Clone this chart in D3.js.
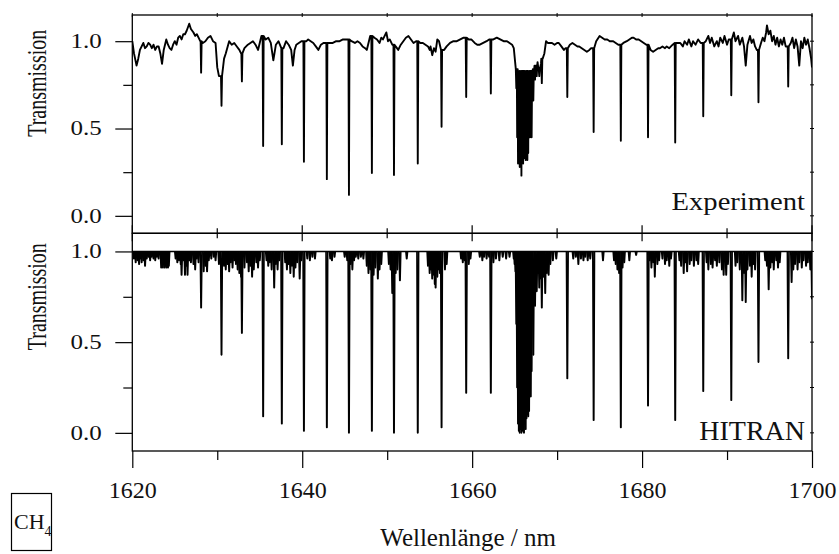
<!DOCTYPE html>
<html>
<head>
<meta charset="utf-8">
<script src="https://cdn.jsdelivr.net/npm/d3@7"></script>
<style>
  body { margin: 0; background: #fff; }
  text { font-family: "Liberation Serif", "Times New Roman", serif; fill: #111; }
</style>
</head>
<body>
<svg id="chart" width="839" height="554"></svg>
<script>
// tick labels
var xTicks = [1620, 1640, 1660, 1680, 1700];
var xMinorTicks = [1630, 1650, 1670, 1690];
var yTicks = [0, 0.5, 1.0];
var yMinorTicks = [0.25, 0.75];

// strong lines: position (nm), experiment minimum, HITRAN minimum
var lineNm  = [1628.1, 1630.5, 1632.9, 1635.4, 1637.6, 1640.2, 1642.9, 1645.5, 1648.2, 1650.8, 1653.6, 1656.4,
               1659.3, 1662.2, 1671.2, 1674.3, 1677.5, 1680.7, 1683.9, 1687.2, 1690.5, 1693.7, 1697.2];
var expDip  = [0.82, 0.63, 0.77, 0.40, 0.41, 0.31, 0.21, 0.12, 0.245, 0.234, 0.30, 0.51,
               0.68, 0.70, 0.68, 0.48, 0.43, 0.45, 0.42, 0.57, 0.69, 0.65, 0.74];
var hitDip  = [0.69, 0.43, 0.55, 0.09, 0.05, 0.01, 0.03, 0.00, 0.01, 0.00, 0.00, 0.03,
               0.22, 0.22, 0.30, 0.07, 0.03, 0.15, 0.07, 0.23, 0.18, 0.39, 0.41];

// Q branch around 1666 nm
var qNm  = [1665.2, 1665.3, 1665.4, 1665.5, 1665.6, 1665.7, 1665.8, 1665.9, 1666.0, 1666.1, 1666.2, 1666.3,
            1666.4, 1666.5, 1666.6, 1666.7, 1666.8, 1666.9, 1667.0, 1667.2, 1667.4, 1667.6, 1667.9, 1668.2];
var qExp = [0.73, 0.45, 0.30, 0.35, 0.28, 0.40, 0.23, 0.38, 0.30, 0.33, 0.40, 0.32,
            0.42, 0.32, 0.36, 0.50, 0.45, 0.55, 0.45, 0.66, 0.78, 0.80, 0.80, 0.76];
var qHit = [0.60, 0.25, 0.05, 0.01, 0.00, 0.02, 0.00, 0.01, 0.03, 0.00, 0.05, 0.02,
            0.08, 0.10, 0.09, 0.12, 0.33, 0.20, 0.34, 0.43, 0.70, 0.78, 0.80, 0.85];

// weak HITRAN lines
var weakNm = [1620.2, 1620.4, 1620.6, 1620.8, 1621.0, 1621.1, 1621.3, 1621.5, 1621.7, 1621.9, 1622.1, 1622.3, 1622.5, 1622.7, 1622.9, 1623.1,
  1623.4, 1623.5, 1623.6, 1623.7, 1623.8, 1623.9, 1624.0, 1624.1, 1624.2, 1624.3,
  1625.1, 1625.3, 1625.5, 1625.7, 1625.8, 1626.0, 1626.2, 1626.4, 1626.5, 1626.7, 1626.9, 1627.2, 1627.4, 1627.6, 1627.8,
  1628.4, 1628.6, 1628.8, 1629.0, 1629.3, 1629.6, 1629.8, 1630.2, 1630.8, 1631.0, 1631.2, 1631.4, 1631.6, 1631.8, 1632.0, 1632.2, 1632.4, 1632.6, 1632.8,
  1633.2, 1633.5, 1633.7, 1633.9, 1634.1, 1634.3, 1634.6, 1634.8, 1635.0, 1635.8, 1636.0, 1636.2, 1636.4, 1636.7, 1636.9, 1637.1, 1637.3,
  1638.0, 1638.2, 1638.4, 1638.6, 1638.8, 1639.0, 1639.2, 1639.4, 1639.7, 1639.9, 1640.6, 1640.9, 1641.2, 1641.5, 1643.3, 1643.5, 1643.8, 1645.0,
  1645.3, 1645.7, 1645.9, 1646.1, 1646.3, 1646.6, 1646.9, 1647.2, 1647.6, 1647.8, 1648.0, 1648.4, 1648.6, 1648.9, 1649.1, 1649.3,
  1650.2, 1650.4, 1650.6, 1651.0, 1651.2, 1651.5, 1652.3, 1654.8, 1655.0, 1655.1, 1655.3, 1655.4, 1655.6, 1655.7, 1655.9, 1656.0, 1656.2,
  1656.8, 1657.0, 1658.7, 1658.9, 1659.1, 1659.6, 1659.8, 1660.9, 1661.2, 1661.4, 1661.7, 1662.0, 1662.5, 1662.8, 1663.2, 1663.6, 1664.0, 1664.4,
  1664.9, 1665.0, 1665.1, 1667.8, 1668.0, 1668.2, 1668.4, 1668.6, 1668.8, 1669.0, 1669.2, 1669.5, 1669.9,
  1671.9, 1672.2, 1672.5, 1672.8, 1673.1, 1673.3, 1673.6, 1673.9, 1675.4, 1676.7, 1676.9, 1677.1, 1677.3, 1677.7, 1677.9, 1678.5, 1679.3,
  1680.9, 1681.1, 1681.3, 1681.5, 1681.8, 1682.0, 1682.4, 1682.7, 1682.9, 1683.2, 1683.4,
  1684.4, 1684.6, 1684.9, 1685.1, 1685.3, 1685.6, 1685.8, 1686.1, 1686.4, 1686.6,
  1687.6, 1687.8, 1688.1, 1688.3, 1688.6, 1688.8, 1689.1, 1689.4, 1689.6, 1689.9, 1690.1,
  1691.0, 1691.2, 1691.5, 1691.8, 1692.0, 1692.2, 1692.4, 1692.7, 1692.9, 1693.1, 1693.3,
  1694.5, 1694.7, 1694.9, 1695.1, 1695.3, 1695.5, 1695.8, 1696.0, 1696.2,
  1697.6, 1697.8, 1698.0, 1698.3, 1698.5, 1698.8, 1699.0, 1699.3, 1699.5, 1699.8, 1700.0];
var weakT = [0.96, 0.94, 0.95, 0.93, 0.96, 0.94, 0.95, 0.92, 0.96, 0.97, 0.95, 0.97, 0.96, 0.95, 0.97, 0.96,
  0.91, 0.92, 0.91, 0.93, 0.91, 0.92, 0.91, 0.93, 0.91, 0.92,
  0.96, 0.94, 0.95, 0.93, 0.87, 0.95, 0.87, 0.92, 0.87, 0.95, 0.94, 0.93, 0.90, 0.96, 0.94,
  0.89, 0.92, 0.89, 0.95, 0.96, 0.97, 0.95, 0.93, 0.92, 0.90, 0.93, 0.89, 0.94, 0.91, 0.95, 0.93, 0.90, 0.88, 0.86,
  0.91, 0.94, 0.89, 0.92, 0.86, 0.90, 0.94, 0.91, 0.95, 0.95, 0.92, 0.94, 0.90, 0.80, 0.93, 0.90, 0.95,
  0.94, 0.90, 0.93, 0.88, 0.92, 0.86, 0.91, 0.94, 0.85, 0.95, 0.96, 0.95, 0.97, 0.96, 0.96, 0.95, 0.97, 0.97,
  0.95, 0.93, 0.90, 0.95, 0.97, 0.96, 0.97, 0.96, 0.92, 0.88, 0.90, 0.87, 0.91, 0.85, 0.90, 0.93,
  0.93, 0.90, 0.77, 0.88, 0.90, 0.84, 0.96, 0.92, 0.88, 0.90, 0.85, 0.87, 0.82, 0.80, 0.86, 0.90, 0.88,
  0.90, 0.93, 0.96, 0.94, 0.95, 0.93, 0.96, 0.97, 0.95, 0.97, 0.96, 0.97, 0.94, 0.96, 0.95, 0.97, 0.96, 0.97,
  0.96, 0.93, 0.89, 0.88, 0.85, 0.69, 0.86, 0.77, 0.88, 0.87, 0.93, 0.95, 0.96,
  0.96, 0.97, 0.93, 0.96, 0.95, 0.97, 0.95, 0.96, 0.95, 0.95, 0.93, 0.90, 0.88, 0.91, 0.94, 0.95, 0.98,
  0.95, 0.91, 0.94, 0.86, 0.93, 0.95, 0.96, 0.93, 0.95, 0.92, 0.96,
  0.95, 0.92, 0.88, 0.94, 0.89, 0.93, 0.95, 0.92, 0.95, 0.93,
  0.94, 0.90, 0.93, 0.91, 0.95, 0.92, 0.94, 0.90, 0.87, 0.87, 0.93,
  0.92, 0.94, 0.90, 0.73, 0.88, 0.72, 0.90, 0.92, 0.86, 0.93, 0.90,
  0.95, 0.92, 0.79, 0.91, 0.94, 0.90, 0.95, 0.91, 0.94,
  0.83, 0.90, 0.93, 0.90, 0.94, 0.91, 0.95, 0.92, 0.94, 0.90, 0.74];

// measured baseline of the experiment: [nm, transmission]
var expBase = [[1620.0, 1.00], [1620.2, 0.93], [1620.5, 0.86], [1620.7, 0.90], [1620.9, 0.95], [1621.1, 0.97], [1621.3, 0.99],
  [1621.5, 0.96], [1621.7, 0.97], [1621.9, 0.99], [1622.1, 0.98], [1622.3, 0.96], [1622.5, 0.98], [1622.7, 0.95], [1622.9, 0.97],
  [1623.1, 0.97], [1623.3, 0.93], [1623.5, 0.87], [1623.7, 0.95], [1624.0, 1.01], [1624.2, 0.98], [1624.4, 0.96], [1624.6, 0.95],
  [1624.8, 0.98], [1625.0, 1.00], [1625.2, 0.98], [1625.4, 1.02], [1625.6, 1.03], [1625.8, 1.01], [1626.0, 1.04], [1626.2, 1.04],
  [1626.4, 1.06], [1626.7, 1.10], [1626.9, 1.07], [1627.2, 1.05], [1627.4, 1.03], [1627.6, 1.04], [1627.8, 1.02], [1628.0, 1.00],
  [1628.3, 0.99], [1628.6, 1.00], [1628.9, 1.02], [1629.2, 1.03], [1629.5, 1.00], [1629.8, 0.99], [1630.0, 0.85], [1630.2, 0.80],
  [1630.8, 0.90], [1631.0, 0.93], [1631.4, 1.00], [1631.7, 0.98], [1632.0, 0.99], [1632.3, 0.97], [1632.6, 0.95], [1632.8, 0.93],
  [1633.2, 0.96], [1633.6, 0.98], [1633.9, 0.99], [1634.2, 1.00], [1634.5, 0.98], [1634.8, 0.95], [1635.0, 0.99], [1635.2, 1.03],
  [1635.7, 1.01], [1636.0, 1.02], [1636.3, 0.99], [1636.6, 0.89], [1636.9, 0.98], [1637.2, 1.00], [1637.8, 0.96], [1638.1, 1.00],
  [1638.4, 0.98], [1638.7, 0.95], [1638.9, 0.86], [1639.1, 0.95], [1639.3, 0.98], [1639.6, 0.99], [1639.9, 1.00], [1640.5, 1.00],
  [1640.7, 1.01], [1641.0, 1.00], [1641.3, 0.99], [1641.6, 0.97], [1641.9, 0.95], [1642.2, 0.98], [1642.5, 0.99], [1643.2, 0.99],
  [1643.6, 0.99], [1644.0, 1.00], [1644.4, 1.00], [1644.8, 1.01], [1645.2, 1.01], [1645.8, 1.00], [1646.2, 0.99], [1646.5, 1.00],
  [1646.8, 0.99], [1647.1, 0.97], [1647.4, 0.96], [1647.6, 0.95], [1647.9, 1.01], [1648.0, 1.03], [1648.5, 1.02], [1648.8, 1.01],
  [1649.1, 0.99], [1649.3, 1.02], [1649.5, 1.01], [1649.7, 1.03], [1649.9, 1.05], [1650.1, 1.00], [1650.3, 1.01], [1650.6, 0.98],
  [1651.0, 0.97], [1651.3, 0.95], [1651.6, 0.98], [1651.9, 1.00], [1652.2, 1.02], [1652.5, 1.03], [1652.8, 1.01], [1653.1, 0.99],
  [1653.4, 1.00], [1653.9, 0.99], [1654.2, 0.99], [1654.5, 0.98], [1654.8, 0.97], [1655.0, 0.95], [1655.1, 0.97], [1655.3, 0.92],
  [1655.5, 0.96], [1655.7, 0.94], [1655.9, 1.01], [1656.1, 1.00], [1656.7, 0.95], [1657.0, 0.97], [1657.4, 0.99], [1657.8, 1.00],
  [1658.2, 1.00], [1658.6, 1.01], [1659.0, 1.02], [1659.6, 1.01], [1659.9, 1.01], [1660.3, 0.99], [1660.6, 0.98], [1660.9, 0.98],
  [1661.3, 0.99], [1661.7, 1.00], [1662.0, 1.01], [1662.5, 1.01], [1662.9, 1.02], [1663.3, 1.01], [1663.7, 1.00], [1664.1, 1.00],
  [1664.4, 0.99], [1664.7, 0.98], [1664.9, 0.96], [1665.1, 0.86], [1665.25, 0.84], [1665.45, 0.83], [1665.65, 0.82], [1665.85, 0.83],
  [1666.05, 0.83], [1666.25, 0.82], [1666.45, 0.83], [1666.65, 0.82], [1666.85, 0.83], [1667.1, 0.82], [1667.3, 0.84], [1667.5, 0.86],
  [1667.7, 0.88], [1667.8, 0.84], [1668.1, 0.87], [1668.3, 0.90], [1668.5, 0.93], [1668.7, 1.00], [1668.9, 0.99], [1669.2, 0.99],
  [1669.4, 0.99], [1669.7, 0.98], [1670.0, 0.99], [1670.2, 0.99], [1670.5, 0.97], [1670.8, 0.95], [1671.0, 0.96], [1671.5, 0.98],
  [1671.8, 0.99], [1672.1, 0.98], [1672.4, 0.97], [1672.6, 0.97], [1672.9, 0.96], [1673.2, 0.95], [1673.5, 0.94], [1673.8, 0.95],
  [1674.0, 0.96], [1674.6, 1.00], [1675.0, 1.03], [1675.3, 1.02], [1675.6, 1.01], [1675.9, 1.01], [1676.2, 1.00], [1676.6, 1.00],
  [1676.9, 0.99], [1677.2, 0.98], [1677.8, 0.99], [1678.2, 1.00], [1678.5, 1.01], [1678.8, 1.02], [1679.0, 1.02], [1679.3, 1.01],
  [1679.6, 1.01], [1679.9, 1.00], [1680.2, 0.99], [1680.5, 0.98], [1681.0, 0.95], [1681.3, 0.94], [1681.6, 0.95], [1681.9, 0.96],
  [1682.1, 0.96], [1682.4, 0.97], [1682.7, 0.96], [1682.9, 0.97], [1683.2, 0.96], [1683.6, 0.98], [1684.2, 0.99], [1684.5, 0.99],
  [1684.8, 0.97], [1685.0, 1.00], [1685.3, 0.98], [1685.5, 1.01], [1685.8, 0.97], [1686.0, 1.00], [1686.3, 0.98], [1686.6, 1.01],
  [1686.9, 0.99], [1687.5, 1.00], [1687.8, 1.03], [1688.0, 0.99], [1688.2, 1.02], [1688.5, 0.97], [1688.8, 1.00], [1689.0, 0.97],
  [1689.2, 1.02], [1689.5, 0.99], [1689.7, 1.03], [1690.0, 0.98], [1690.2, 1.01], [1690.8, 1.05], [1691.0, 1.00], [1691.3, 1.03],
  [1691.5, 0.98], [1691.8, 1.02], [1692.0, 0.97], [1692.2, 0.86], [1692.4, 0.98], [1692.7, 1.03], [1692.9, 0.99], [1693.1, 1.01],
  [1693.3, 0.97], [1693.5, 0.95], [1694.0, 0.99], [1694.2, 1.02], [1694.4, 1.00], [1694.6, 1.05], [1694.7, 1.09], [1694.9, 1.04],
  [1695.1, 1.06], [1695.3, 1.00], [1695.5, 1.03], [1695.7, 0.98], [1695.9, 1.02], [1696.1, 0.97], [1696.3, 1.01], [1696.5, 0.98],
  [1696.7, 1.02], [1696.9, 0.97], [1697.5, 0.99], [1697.7, 1.02], [1697.9, 0.96], [1698.1, 1.01], [1698.3, 0.97], [1698.5, 0.86],
  [1698.7, 1.00], [1698.9, 0.96], [1699.1, 1.02], [1699.3, 0.98], [1699.5, 1.01], [1699.7, 0.96], [1699.9, 0.90], [1700.0, 0.85]];

var svg = d3.select("#chart");
var fontSerif = "'Liberation Serif', 'Times New Roman', serif";

// plot area
var left = 132.3, right = 812;
var top1 = 15, mid = 233.3, bot2 = 451;

var x = d3.scaleLinear().domain([1620, 1700]).range([left, right]);
var yTop = d3.scaleLinear().domain([-0.1, 1.15]).range([mid, top1]);
var yBot = d3.scaleLinear().domain([-0.1, 1.1]).range([bot2, mid]);

svg.append("rect").attr("width", 839).attr("height", 554).attr("fill", "#fff");

var defs = svg.append("defs");
defs.append("clipPath").attr("id", "clipTop").append("rect")
    .attr("x", left).attr("y", top1).attr("width", right - left).attr("height", mid - top1);
defs.append("clipPath").attr("id", "clipBot").append("rect")
    .attr("x", left).attr("y", mid).attr("width", right - left).attr("height", bot2 - mid);

// build experimental series: baseline + narrow dips
function nearestBase(nm) {
    var best = expBase[0];
    expBase.forEach(function(d) { if (Math.abs(d[0] - nm) < Math.abs(best[0] - nm)) best = d; });
    return best[1];
}
var expSeries = expBase.slice();
function addDip(c, t) {
    var b = nearestBase(c);
    expSeries.push([c - 0.06, b], [c, t], [c + 0.06, b]);
}
lineNm.forEach(function(c, i) { addDip(c, expDip[i]); });
qNm.forEach(function(c, i) { addDip(c, qExp[i]); });
expSeries.sort(function(a, b) { return a[0] - b[0]; });

var lineTop = d3.line()
    .x(function(d) { return x(d[0]); })
    .y(function(d) { return yTop(d[1]); });

svg.append("path")
    .datum(expSeries)
    .attr("clip-path", "url(#clipTop)")
    .attr("fill", "none")
    .attr("stroke", "#000")
    .attr("stroke-width", 1.9)
    .attr("stroke-linejoin", "round")
    .attr("d", lineTop);

// HITRAN: flat 1.0 with each line as a narrow dip
var hitLines = [];
lineNm.forEach(function(c, i) { hitLines.push([c, hitDip[i]]); });
qNm.forEach(function(c, i) { hitLines.push([c, qHit[i]]); });
weakNm.forEach(function(c, i) { hitLines.push([c, weakT[i]]); });

var lineBot = d3.line()
    .x(function(d) { return x(d[0]); })
    .y(function(d) { return yBot(d[1]); });

var gHit = svg.append("g").attr("clip-path", "url(#clipBot)");
gHit.append("path")
    .datum([[1620, 1], [1700, 1]])
    .attr("fill", "none")
    .attr("stroke", "#000")
    .attr("stroke-width", 1.6)
    .attr("d", lineBot);
gHit.selectAll(".hline")
    .data(hitLines)
    .enter()
    .append("path")
    .attr("class", "hline")
    .attr("fill", "none")
    .attr("stroke", "#000")
    .attr("stroke-width", 1.6)
    .attr("stroke-linejoin", "round")
    .attr("d", function(d) {
        return lineBot([[d[0] - 0.1, 1], [d[0] - 0.02, d[1]], [d[0] + 0.02, d[1]], [d[0] + 0.1, 1]]);
    });

// frames
[[top1, mid], [mid, bot2]].forEach(function(p) {
    svg.append("rect")
        .attr("x", left).attr("y", p[0])
        .attr("width", right - left).attr("height", p[1] - p[0])
        .attr("fill", "none").attr("stroke", "#000").attr("stroke-width", 1.3);
});

// y axes (left, ticks outside) - major and minor ticks in separate groups
function yAxis(scale) {
    var gMinor = svg.append("g").attr("transform", "translate(" + left + ",0)");
    gMinor.call(d3.axisLeft(scale).tickValues(yMinorTicks).tickSize(9).tickFormat(""));
    var g = svg.append("g").attr("transform", "translate(" + left + ",0)");
    g.call(d3.axisLeft(scale).tickValues(yTicks).tickSize(17).tickFormat(d3.format(".1f")));
    [g, gMinor].forEach(function(s) {
        s.selectAll(".domain").remove();
        s.selectAll("line").attr("stroke", "#000").attr("stroke-width", 1.2);
    });
    g.selectAll("text")
        .attr("x", -24.5)
        .attr("transform", "scale(1.25,1)")
        .style("font-family", fontSerif)
        .style("font-size", "20px")
        .attr("fill", "#111");
    // small ticks on right edge
    svg.append("g").selectAll("line")
        .data(yTicks.concat(yMinorTicks))
        .enter().append("line")
        .attr("x1", right - 2).attr("x2", right + 2)
        .attr("y1", function(d) { return scale(d); })
        .attr("y2", function(d) { return scale(d); })
        .attr("stroke", "#000").attr("stroke-width", 1);
}
yAxis(yTop);
yAxis(yBot);

// x axis at the bottom
var gxMinor = svg.append("g").attr("transform", "translate(0," + bot2 + ")");
gxMinor.call(d3.axisBottom(x).tickValues(xMinorTicks).tickSize(9).tickFormat(""));
var gx = svg.append("g").attr("transform", "translate(0," + bot2 + ")");
gx.call(d3.axisBottom(x).tickValues(xTicks).tickSize(17).tickFormat(d3.format("d")));
[gx, gxMinor].forEach(function(s) {
    s.selectAll(".domain").remove();
    s.selectAll("line").attr("stroke", "#000").attr("stroke-width", 1.2);
});
gx.selectAll("text")
    .attr("y", 47)
    .attr("dy", 0)
    .style("font-family", fontSerif)
    .style("font-size", "24px")
    .attr("fill", "#111");

// ticks across the panel divider and along the top edge
var allX = xTicks.concat(xMinorTicks);
svg.append("g").selectAll("line")
    .data(allX)
    .enter().append("line")
    .attr("x1", function(d) { return x(d); })
    .attr("x2", function(d) { return x(d); })
    .attr("y1", function(d) { return mid - (xTicks.indexOf(d) >= 0 ? 8 : 5); })
    .attr("y2", function(d) { return mid + (xTicks.indexOf(d) >= 0 ? 8 : 5); })
    .attr("stroke", "#000").attr("stroke-width", 1.2);
svg.append("g").selectAll("line")
    .data(allX)
    .enter().append("line")
    .attr("x1", function(d) { return x(d); })
    .attr("x2", function(d) { return x(d); })
    .attr("y1", top1 - 2)
    .attr("y2", top1 + 2)
    .attr("stroke", "#000").attr("stroke-width", 1);

// axis titles
function transTitle(cy) {
    svg.append("text")
        .attr("transform", "translate(46," + cy + ") rotate(-90) scale(1,1.4)")
        .attr("text-anchor", "middle")
        .style("font-family", fontSerif)
        .style("font-size", "20px")
        .text("Transmission");
}
transTitle(83.3);
transTitle(296.7);

svg.append("text")
    .attr("x", (left + right) / 2 - 4)
    .attr("y", 546)
    .attr("text-anchor", "middle")
    .style("font-family", fontSerif)
    .style("font-size", "25px")
    .text("Wellenlänge / nm");

// panel labels
svg.append("text")
    .attr("transform", "translate(805,210) scale(1.1,1)")
    .attr("text-anchor", "end")
    .style("font-family", fontSerif)
    .style("font-size", "26px")
    .text("Experiment");

svg.append("text")
    .attr("x", 805)
    .attr("y", 440)
    .attr("text-anchor", "end")
    .style("font-family", fontSerif)
    .style("font-size", "28px")
    .text("HITRAN");

// CH4 box
svg.append("rect")
    .attr("x", 11.5).attr("y", 493.5)
    .attr("width", 40).attr("height", 57)
    .attr("fill", "none").attr("stroke", "#000").attr("stroke-width", 1.2);
var ch4 = svg.append("text")
    .attr("x", 14)
    .attr("y", 529)
    .style("font-family", fontSerif)
    .style("font-size", "22px")
    .attr("fill", "#111");
ch4.append("tspan").text("CH");
ch4.append("tspan").attr("dy", 7).attr("fill", "#111").style("font-size", "14px").text("4");
</script>
</body>
</html>
